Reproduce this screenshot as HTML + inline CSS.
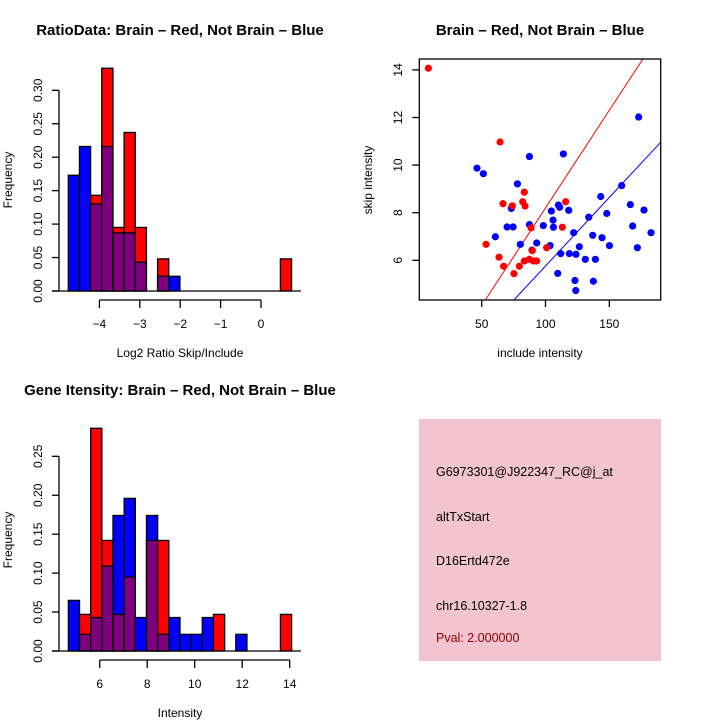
<!DOCTYPE html>
<html><head><meta charset="utf-8"><style>
html,body{margin:0;padding:0;background:#fff;}
svg{display:block;font-family:"Liberation Sans",sans-serif;}
</style></head><body>
<svg id="s" width="720" height="720" viewBox="0 0 720 720">
<rect width="720" height="720" fill="#fff"/>
<g id="h1"></g>
<g id="sc"></g>
<g id="h2"></g>
<g>
<rect x="419" y="419" width="242" height="242" fill="#f2c4cf"/>
<text x="436" y="476" font-size="12.5">G6973301@J922347_RC@j_at</text>
<text x="436" y="521" font-size="12.5">altTxStart</text>
<text x="436" y="565" font-size="12.5">D16Ertd472e</text>
<text x="436" y="610" font-size="12.5">chr16.10327-1.8</text>
<text x="436" y="642" font-size="12.5" fill="#8b0000">Pval: 2.000000</text>
</g>
</svg>
<script>
// Histogram 1 data
const h1Blue=[0.173,0.216,0.130,0.216,0.087,0.087,0.043,0,0.022,0.022,0,0,0,0,0,0,0,0,0,0];
const h1Red=[0,0,0.143,0.333,0.095,0.237,0.095,0,0.048,0,0,0,0,0,0,0,0,0,0,0.048];
const h1Start=-4.77, h1Width=0.2763;
const h1XTicks=[-4,-3,-2,-1,0];
const h1YTicks=[0,0.05,0.10,0.15,0.20,0.25,0.30];
// Histogram 2 data
const h2Blue=[0.065,0.0214,0.043,0.109,0.174,0.196,0.043,0.174,0.0214,0.043,0.0214,0.0214,0.043,0,0,0.0214,0,0,0,0];
const h2Red=[0,0.047,0.286,0.142,0.047,0.095,0,0.142,0.142,0,0,0,0,0.047,0,0,0,0,0,0.047];
const h2Start=4.68, h2Width=0.47;
const h2XTicks=[6,8,10,12,14];
const h2YTicks=[0,0.05,0.10,0.15,0.20,0.25];
// Scatter data
const redX=[8.2,64.4,66.7,74.0,53.4,63.6,67.2,75.3,79.5,83.4,82.1,84.0,88.7,89.7,83.4,87.4,90.5,93.1,100.9,113.2,115.8];
const redY=[14.07,10.97,8.38,8.29,6.67,6.13,5.75,5.44,5.75,8.86,8.46,8.28,7.36,6.41,5.97,6.04,5.97,5.97,6.53,7.39,8.46];
const blueX=[46.3,51.3,60.7,69.9,74.6,73.2,78.0,80.3,87.4,87.4,89.4,93.1,98.3,103.6,104.6,105.9,106.2,110.1,111.1,109.6,111.9,114.0,118.2,118.7,122.1,123.1,123.9,123.7,126.5,131.2,133.9,137.0,137.5,139.1,143.3,144.3,148.0,150.1,159.7,166.5,168.3,172.0,173.0,177.2,182.7];
const blueY=[9.87,9.64,6.99,7.40,7.40,8.18,9.21,6.67,10.36,7.50,6.43,6.73,7.46,6.62,8.07,7.69,7.39,8.32,8.23,5.45,6.28,10.47,8.10,6.28,7.16,5.15,6.25,4.73,6.57,6.04,7.81,7.05,5.12,6.04,8.68,6.95,7.97,6.62,9.14,8.34,7.44,6.53,12.02,8.11,7.16];
const scXTicks=[50,100,150];
const scYTicks=[6,8,10,12,14];
const redSlope=0.082, blueSlope=0.0576;

const NS="http://www.w3.org/2000/svg";
function mk(parent,tag,attrs,text){const e=document.createElementNS(NS,tag);for(const k in attrs)e.setAttribute(k,attrs[k]);if(text!==undefined)e.textContent=text;parent.appendChild(e);return e;}

function hist(g,blue,red,start,w,xT,yT,xs,ys,base,axisY,title,titleY,xlab,xlabY,fy){
  const X=v=>xs.o+(v-xs.v0)*xs.k, Y=v=>base-v*ys;
  let t=mk(g,'text',{x:180,y:titleY,'font-size':15,'font-weight':'bold','text-anchor':'middle'},title);
  
  
  for(let i=0;i<blue.length;i++){
    const x0=X(start+i*w),x1=X(start+(i+1)*w);
    const b=blue[i],r=red[i],hi=Math.max(b,r),lo=Math.min(b,r);
    if(hi>0){
      let rc=mk(g,'rect',{x:x0,y:Y(hi),width:x1-x0,height:Y(0)-Y(hi),fill:b>r?'#0000ff':'#ff0000',stroke:'#000','stroke-width':1.3});
      
      
    }
    if(lo>0){
      let rc=mk(g,'rect',{x:x0,y:Y(lo),width:x1-x0,height:Y(0)-Y(lo),fill:'#7f007f',stroke:'#000','stroke-width':1.3});
      
      
    }
  }
  let bl=mk(g,'line',{x1:52,x2:301,y1:base,y2:base,stroke:'#000','stroke-width':1.3});
  
  
  let ya=mk(g,'line',{x1:59,x2:59,y1:Y(yT[0]),y2:Y(yT[yT.length-1]),stroke:'#000','stroke-width':1.3});
  
  
  yT.forEach(v=>{
    mk(g,'line',{x1:52,x2:59,y1:Y(v),y2:Y(v),stroke:'#000','stroke-width':1.3});
    let tl=mk(g,'text',{x:42,y:Y(v),'font-size':12,'text-anchor':'middle',transform:`rotate(-90 42 ${Y(v)})`},v.toFixed(2));
    
    
  });
  let xa=mk(g,'line',{x1:X(xT[0]),x2:X(xT[xT.length-1]),y1:axisY,y2:axisY,stroke:'#000','stroke-width':1.3});
  
  
  xT.forEach(v=>{
    mk(g,'line',{x1:X(v),x2:X(v),y1:axisY,y2:axisY+8,stroke:'#000','stroke-width':1.3});
    let tl=mk(g,'text',{x:X(v),y:axisY+28,'font-size':12,'text-anchor':'middle'},v<0?'\u2212'+(-v):String(v));
    
    
  });
  let xl=mk(g,'text',{x:180,y:xlabY,'font-size':12,'text-anchor':'middle'},xlab);
  
  
  let yl=mk(g,'text',{x:12,y:fy,'font-size':12,'text-anchor':'middle',transform:`rotate(-90 12 ${fy})`},'Frequency');
  
  
}
hist(document.getElementById('h1'),h1Blue,h1Red,h1Start,h1Width,h1XTicks,h1YTicks,{o:261,v0:0,k:40.4},669,291,300,
 'RatioData: Brain \u2013 Red, Not Brain \u2013 Blue',35,'Log2 Ratio Skip/Include',357,180);
hist(document.getElementById('h2'),h2Blue,h2Red,h2Start,h2Width,h2XTicks,h2YTicks,{o:99.7,v0:6,k:23.75},778.7,651,660,
 'Gene Itensity: Brain \u2013 Red, Not Brain \u2013 Blue',395,'Intensity',717,540);

(function(){
  const g=document.getElementById('sc');
  const X=v=>481.7+(v-50)*1.276, Y=v=>260.3-(v-6)*23.8;
  const L=419.3,R=660.7,T=59,B=300;
  let t=mk(g,'text',{x:540,y:35,'font-size':15,'font-weight':'bold','text-anchor':'middle'},'Brain \u2013 Red, Not Brain \u2013 Blue');
  
  
  mk(g,'clipPath',{id:'cp'});
  mk(document.getElementById('cp'),'rect',{x:L,y:T,width:R-L,height:B-T});
  [[redSlope,'#ff0000','red-fit-line'],[blueSlope,'#0000ff','blue-fit-line']].forEach(([s,c,n])=>{
    const xa=-10,xb=250;
    let l=mk(g,'line',{x1:X(xa),y1:Y(s*xa),x2:X(xb),y2:Y(s*xb),stroke:c,'stroke-width':1,'clip-path':'url(#cp)'});
    
    
  });
  blueX.forEach((x,i)=>{
    let c=mk(g,'circle',{cx:X(x),cy:Y(blueY[i]),r:3.6,fill:'#0000ff'});
    
    
  });
  redX.forEach((x,i)=>{
    let c=mk(g,'circle',{cx:X(x),cy:Y(redY[i]),r:3.6,fill:'#ff0000'});
    
    
  });
  let bx=mk(g,'rect',{x:L,y:T,width:R-L,height:B-T,fill:'none',stroke:'#000','stroke-width':1.3});
  
  
  scXTicks.forEach(v=>{
    mk(g,'line',{x1:X(v),x2:X(v),y1:B,y2:B+7,stroke:'#000','stroke-width':1.3});
    let tl=mk(g,'text',{x:X(v),y:B+28,'font-size':12,'text-anchor':'middle'},String(v));
    
    
  });
  scYTicks.forEach(v=>{
    mk(g,'line',{x1:L-7,x2:L,y1:Y(v),y2:Y(v),stroke:'#000','stroke-width':1.3});
    let tl=mk(g,'text',{x:402,y:Y(v),'font-size':12,'text-anchor':'middle',transform:`rotate(-90 402 ${Y(v)})`},String(v));
    
    
  });
  let xl=mk(g,'text',{x:540,y:357,'font-size':12,'text-anchor':'middle'},'include intensity');
  
  
  let yl=mk(g,'text',{x:372,y:180,'font-size':12,'text-anchor':'middle',transform:'rotate(-90 372 180)'},'skip intensity');
  
  
})();
</script>
</body></html>
